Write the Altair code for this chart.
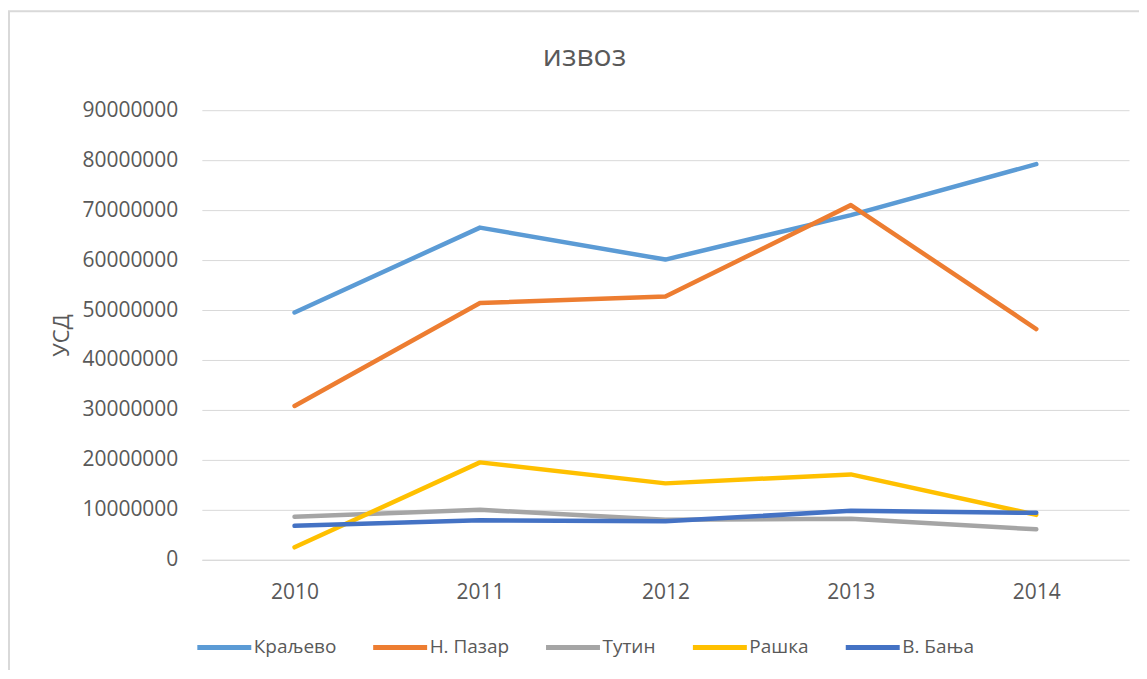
import altair as alt
import pandas as pd

years = ["2010", "2011", "2012", "2013", "2014"]
series_names = ["Краљево", "Н. Пазар", "Тутин", "Рашка", "В. Бања"]
kraljevo = [49500000, 66500000, 60100000, 69000000, 79200000]
npazar = [30800000, 51400000, 52700000, 71000000, 46200000]
tutin = [8600000, 10000000, 8000000, 8200000, 6100000]
raska = [2500000, 19500000, 15300000, 17100000, 9000000]
vbanja = [6800000, 7900000, 7700000, 9800000, 9400000]
colors = ["#5B9BD5", "#ED7D31", "#A5A5A5", "#FFC000", "#4472C4"]
y_ticks = [0, 10000000, 20000000, 30000000, 40000000, 50000000,
           60000000, 70000000, 80000000, 90000000]

rows = []
for name, vals in zip(series_names, [kraljevo, npazar, tutin, raska, vbanja]):
    for yr, v in zip(years, vals):
        rows.append({"Година": yr, "Серија": name, "Вредност": v})
df = pd.DataFrame(rows)

FONT = "Open Sans"
GREY = "#595959"
BORDER = "#d9d9d9"

lines = alt.Chart(df).mark_line(strokeWidth=4.5, strokeCap="round", strokeJoin="round").encode(
    x=alt.X("Година:N", sort=years, scale=alt.Scale(paddingOuter=0.5, paddingInner=0),
            axis=alt.Axis(title=None, labelAngle=0, ticks=False, grid=False,
                          domainColor=BORDER, domainWidth=1,
                          labelFontSize=21, labelColor=GREY, labelFont=FONT,
                          labelPadding=22)),
    y=alt.Y("Вредност:Q", scale=alt.Scale(domain=[0, 90000000], nice=False),
            axis=alt.Axis(title="УСД", values=y_ticks, format="d", ticks=False,
                          domain=False, gridColor=BORDER, gridWidth=1,
                          labelFontSize=21, labelColor=GREY, labelFont=FONT,
                          labelPadding=24, titleFontSize=22, titleFont=FONT,
                          titleColor=GREY, titleFontWeight="normal",
                          titlePadding=8)),
    color=alt.Color("Серија:N", scale=alt.Scale(domain=series_names, range=colors),
                    sort=series_names,
                    legend=alt.Legend(title=None, orient="none", direction="horizontal",
                                      legendX=-7, legendY=508,
                                      symbolType="stroke", symbolSize=2916,
                                      symbolStrokeWidth=5, labelFontSize=19,
                                      labelFont=FONT, labelColor=GREY,
                                      labelOffset=0, columnPadding=26,
                                      labelLimit=300)),
)

frame_df = pd.DataFrame({"k": [0]})
top_edge = alt.Chart(frame_df).mark_rule(color=BORDER, strokeWidth=2).encode(
    x=alt.value(-194), x2=alt.value(960), y=alt.value(-99)
)
left_edge = alt.Chart(frame_df).mark_rule(color=BORDER, strokeWidth=2).encode(
    x=alt.value(-193), y=alt.value(-99), y2=alt.value(570)
)

chart = alt.layer(lines, top_edge, left_edge).properties(
    width=928,
    height=450,
    title=alt.TitleParams("извоз", fontSize=30, font=FONT, color=GREY,
                          fontWeight="normal", anchor="middle", dx=-81,
                          offset=0, dy=86, baseline="alphabetic"),
    autosize=alt.AutoSizeParams(type="none"),
    padding={"left": 194, "top": 102, "right": 10, "bottom": 110},
).configure_view(stroke=None)

chart.save("out.html", embed_options={"renderer": "svg", "actions": False})
